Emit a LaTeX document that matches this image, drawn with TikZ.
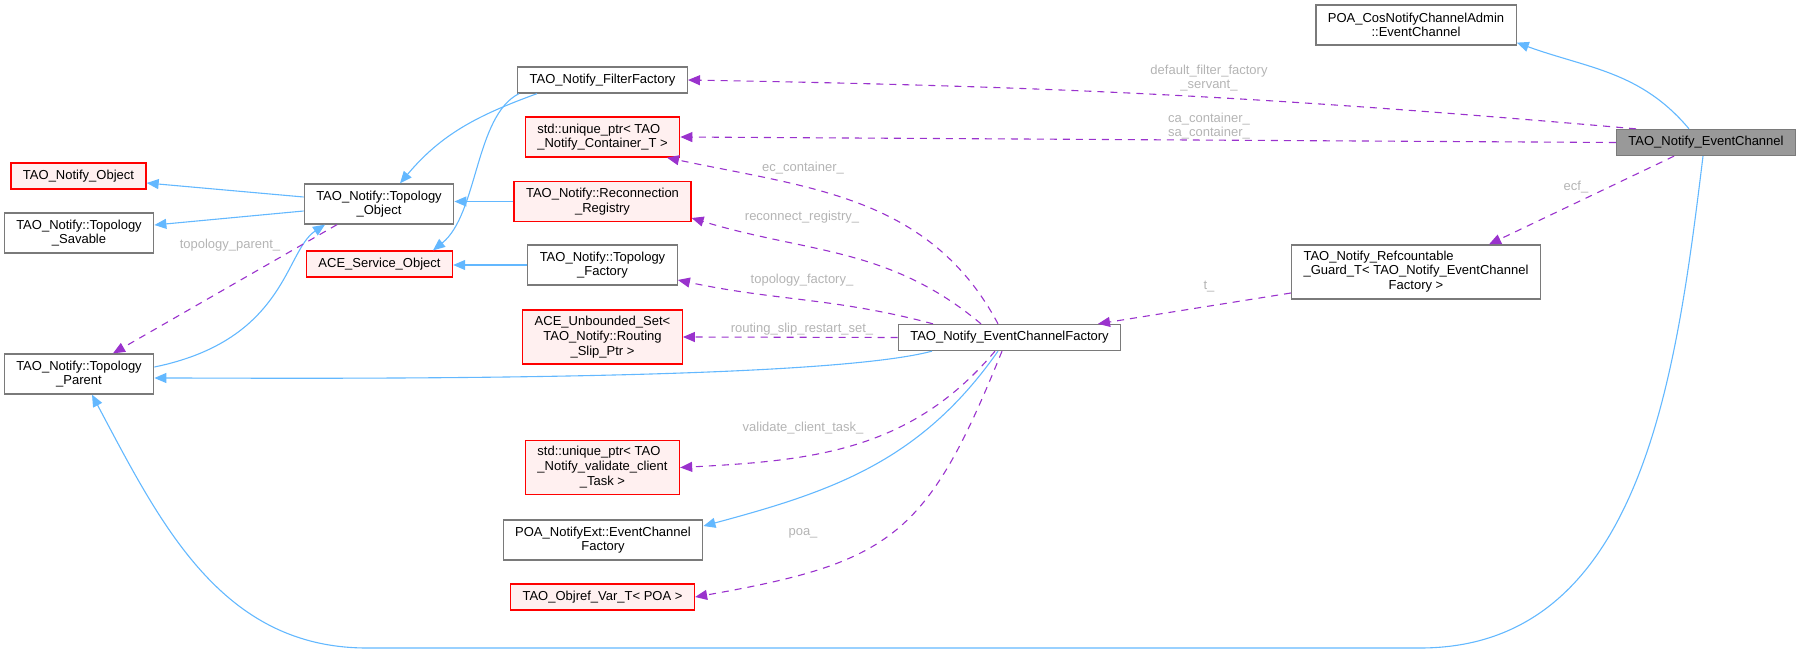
\documentclass[tikz,border=0pt]{standalone}
\usepackage{fontspec}
\setmainfont{Liberation Sans}
\usetikzlibrary{arrows.meta}
\usetikzlibrary{calc}

\definecolor{edgeblue}{HTML}{63B8FF}
\definecolor{edgepurple}{HTML}{9A32CD}
\definecolor{boxgray}{HTML}{7A7A7A}
\definecolor{rootfill}{HTML}{999999}
\definecolor{redfill}{HTML}{FFF0F0}
\definecolor{lblgray}{HTML}{B4B4B4}

\begin{document}
\begin{tikzpicture}[x=1pt,y=1pt,>={Triangle[length=12pt,width=10pt]},%
    box/.style={draw=boxgray,fill=white,line width=1.3pt,inner xsep=12pt,
      inner ysep=0pt,minimum height=26pt,align=center,
      font=\fontsize{13}{14.7}\selectfont},
    redbox/.style={box,draw=red,fill=redfill},
    rootbox/.style={box,fill=rootfill},
    lines2/.style={minimum height=40pt},
    lines3/.style={minimum height=54pt},
    inherit/.style={->,edgeblue,line width=1.1pt},
    usage/.style={->,edgepurple,line width=1.1pt,dash pattern=on 7pt off 6pt},
    lbl/.style={text=lblgray,inner sep=0pt,align=center,
      font=\fontsize{13}{14.7}\selectfont}]
  \useasboundingbox (0,0) rectangle (1800,-653);

  \node[rootbox] (ec) at (1706,-142.5) {TAO\_Notify\_EventChannel};
  \node[box,lines2] (poacos) at (1416,-25) {POA\_CosNotifyChannelAdmin\\::EventChannel};
  \node[box,lines3] (guard) at (1416,-272) {\begin{tabular}{@{}l@{}}TAO\_Notify\_Refcountable\\
    \_Guard\_T< TAO\_Notify\_EventChannel\\\multicolumn{1}{@{}c@{}}{Factory >}\end{tabular}};
  \node[box] (ecf) at (1009.5,-337.5) {TAO\_Notify\_EventChannelFactory};

  \node[box] (filter) at (602.5,-80) {TAO\_Notify\_FilterFactory};
  \node[redbox,lines2,align=left] (container) at (602.5,-137) {std::unique\_ptr< TAO\\\_Notify\_Container\_T >};
  \node[redbox,lines2] (registry) at (602.5,-201.5) {TAO\_Notify::Reconnection\\\_Registry};
  \node[box,lines2] (topofactory) at (602.5,-265) {TAO\_Notify::Topology\\\_Factory};
  \node[redbox,lines3] (unbounded) at (602.5,-337) {ACE\_Unbounded\_Set<\\TAO\_Notify::Routing\\\_Slip\_Ptr >};
  \node[redbox,lines3] (validate) at (602.5,-467.5) {\begin{tabular}{@{}l@{}}std::unique\_ptr< TAO\\
    \_Notify\_validate\_client\\\multicolumn{1}{@{}c@{}}{\_Task >}\end{tabular}};
  \node[box,lines2] (notifyext) at (603,-540) {POA\_NotifyExt::EventChannel\\Factory};
  \node[redbox] (objref) at (602.5,-597) {TAO\_Objref\_Var\_T< POA >};

  \node[box,lines2] (topoobject) at (379,-204) {TAO\_Notify::Topology\\\_Object};
  \node[redbox] (service) at (379.5,-264) {ACE\_Service\_Object};
  \node[redbox] (notifyobject) at (78.5,-176) {TAO\_Notify\_Object};
  \node[box,lines2] (savable) at (79,-233) {TAO\_Notify::Topology\\\_Savable};
  \node[box,lines2] (parent) at (79,-374) {TAO\_Notify::Topology\\\_Parent};

  \coordinate (bendright) at (1420,-648);
  \coordinate (bendleft) at (367,-648);

  % base classes
  \draw[inherit] ([xshift=-17pt]ec.north) to[out=130,in=-20] ([yshift=3pt]poacos.south east);
  \draw[inherit] ([xshift=-3pt]ec.south) to[out=-97,in=0] (bendright) -- (bendleft)
    to[out=180,in=-62] ([xshift=13pt]parent.south);
  \draw[inherit] ([yshift=7pt]topoobject.west) -- ([yshift=-7pt]notifyobject.east);
  \draw[inherit] ([yshift=-7pt]topoobject.west) -- ([yshift=8pt]savable.east);
  \draw[inherit] ([xshift=-65.5pt]filter.south) to[out=200,in=50] ([xshift=21pt]topoobject.north);
  \draw[inherit] ([xshift=-83.5pt]filter.south) .. controls +(-44,-22) and +(45,36) .. ([xshift=53.5pt]service.north);
  \draw[inherit] (registry.west) -- (registry.west -| topoobject.east);
  \draw[inherit] (topofactory.west) -- (topofactory.west -| service.east);
  \draw[inherit] ([yshift=7pt]parent.east) .. controls +(132,27) and +(-40,-26) .. ([xshift=-54pt]topoobject.south);
  \draw[inherit] ([xshift=-77.5pt]ecf.south) to[out=-165,in=0,looseness=0.4] ([yshift=-4pt]parent.east);
  \draw[inherit] ([xshift=-11.5pt]ecf.south) to[out=-125,in=15] ([yshift=14pt]notifyext.east);

  % members
  \draw[usage] ([xshift=-70pt]ec.north) to[out=175,in=-1] (filter.east);
  \draw[usage] (ec.west) -- (container.east);
  \draw[usage] ([xshift=-32pt]ec.south) -- ([xshift=73pt]guard.north);
  \draw[usage] ([yshift=-21pt]guard.west) -- ([xshift=88.5pt]ecf.north);
  \draw[usage] ([xshift=-11.5pt]ecf.north) to[out=118,in=-12] ([xshift=64.5pt]container.south);
  \draw[usage] ([xshift=-28.5pt]ecf.north) to[out=140,in=-17] ([yshift=-16.5pt]registry.east);
  \draw[usage] ([xshift=-76.5pt]ecf.north) to[out=165,in=-12] ([yshift=-15pt]topofactory.east);
  \draw[usage] (ecf.west) -- (unbounded.east);
  \draw[usage] ([xshift=-14.5pt]ecf.south) to[out=-130,in=3] (validate.east);
  \draw[usage] ([xshift=-7.5pt]ecf.south) to[out=-112,in=10,looseness=1.3] (objref.east);
  \draw[usage] ([xshift=-42pt]topoobject.south) -- ([xshift=34pt]parent.north);

  \node[lbl] (lfilter) at (1209,-78) {default\_filter\_factory\\\_servant\_};
  \node[lbl] (lcontainer) at (1209,-126) {ca\_container\_\\sa\_container\_};
  \node[lbl] (lecf) at (1576,-187) {ecf\_};
  \node[lbl] (lt) at (1209,-287) {t\_};
  \node[lbl] (lec) at (803,-168) {ec\_container\_};
  \node[lbl] (lreg) at (802,-217) {reconnect\_registry\_};
  \node[lbl] (ltopo) at (802,-280) {topology\_factory\_};
  \node[lbl] (lroute) at (802,-329) {routing\_slip\_restart\_set\_};
  \node[lbl] (lvalidate) at (803,-428) {validate\_client\_task\_};
  \node[lbl] (lpoa) at (803,-533) {poa\_};
  \node[lbl] (lparent) at (230,-245) {topology\_parent\_};
\end{tikzpicture}
\end{document}
